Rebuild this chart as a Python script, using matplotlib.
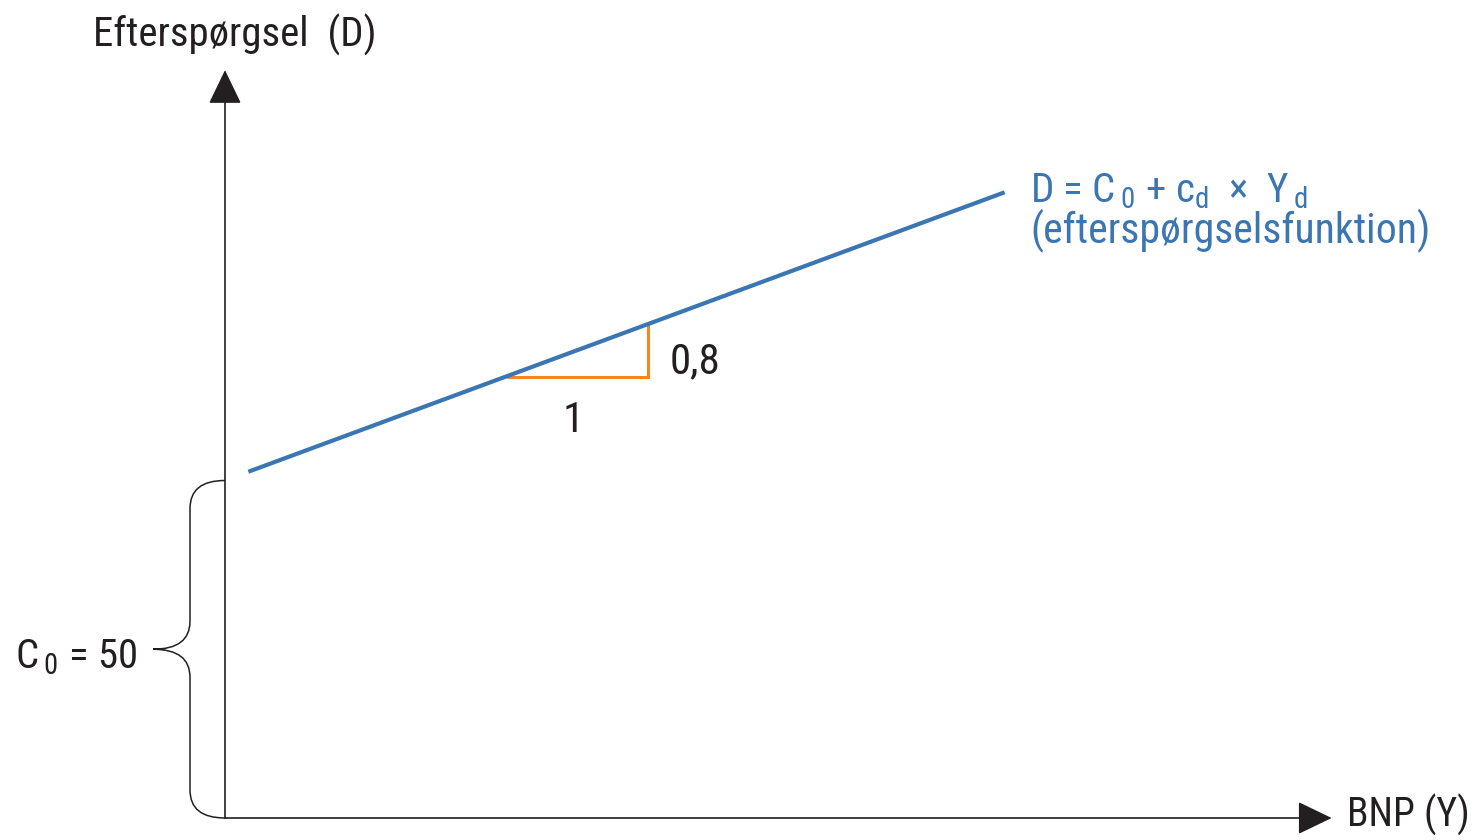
import matplotlib
matplotlib.use('Agg')
import matplotlib.pyplot as plt
from matplotlib import font_manager
from matplotlib.path import Path
from matplotlib.patches import PathPatch

# ---------------- data ----------------
C0 = 50                      # autonomous demand
cd = 0.8                     # marginal propensity
Y_line = [1.6, 53.4]         # BNP values at the ends of the demand line
D_line = [51.3, 92.7]        # demand values at the ends of the line
tri_Y = [19.3, 29.0, 29.0]   # slope triangle (run "1", rise "0,8")
tri_D = [65.3, 65.3, 73.3]
x_axis_max = 75.8
y_axis_max = 110.8

y_label = "Efterspørgsel  (D)"
x_label = "BNP (Y)"
eq_label = r"D = C$\,_{0}$ + c$_{d}$  ×  Y$\,_{d}$"
eq_label2 = "(efterspørgselsfunktion)"
run_label = "1"
rise_label = "0,8"
c0_label = r"C$\,_{0}$ = 50"

# ---------------- layout ----------------
W, H = 1479, 840
ox, oy = 225, 818
sx, sy = 14.6, 6.75
DARK = '#231f20'
BLUE = '#3b76b3'
ORANGE = '#f7861e'

names = {f.name for f in font_manager.fontManager.ttflist}
FONT = 'DejaVu Sans'
for cand in ['Roboto Condensed', 'Liberation Sans Narrow', 'Open Sans Condensed',
             'Noto Sans Condensed', 'DejaVu Sans Condensed']:
    if cand in names:
        FONT = cand
        break

plt.rcParams['font.family'] = [FONT, 'DejaVu Sans']
plt.rcParams['mathtext.fontset'] = 'custom'
plt.rcParams['mathtext.rm'] = FONT
plt.rcParams['mathtext.it'] = FONT
plt.rcParams['mathtext.bf'] = FONT

fig = plt.figure(figsize=(W / 100, H / 100), dpi=100)
ax = fig.add_axes([0, 0, 1, 1])
ax.set_xlim(-ox / sx, (W - ox) / sx)
ax.set_ylim(-(H - oy) / sy, oy / sy)
ax.axis('off')

# axes with arrows
arrow = dict(arrowstyle='-|>,head_length=1.08,head_width=0.52', color=DARK,
             lw=1.2, mutation_scale=20, shrinkA=0, shrinkB=0)
ax.annotate('', xy=(0, y_axis_max), xytext=(0, 0), arrowprops=arrow)
ax.annotate('', xy=(x_axis_max, 0), xytext=(0, 0), arrowprops=arrow)

# demand line
ax.plot(Y_line, D_line, color=BLUE, lw=3.0, solid_capstyle='butt', zorder=3)
# slope triangle
ax.plot(tri_Y, tri_D, color=ORANGE, lw=2.2, solid_joinstyle='miter',
        solid_capstyle='butt', zorder=2)

# brace for C0
def P(px, py):
    return ((px - ox) / sx, (oy - py) / sy)

top_py = oy - C0 * sy
mid_py = (oy + top_py) / 2
spine, tip, r = 190, 153, 28
verts = [P(225, oy), P(spine, oy), P(spine, oy - r),
         P(spine, mid_py + r), P(spine, mid_py), P(tip, mid_py),
         P(spine, mid_py), P(spine, mid_py - r),
         P(spine, top_py + r), P(spine, top_py), P(225, top_py)]
codes = [Path.MOVETO, Path.CURVE3, Path.CURVE3,
         Path.LINETO, Path.CURVE3, Path.CURVE3,
         Path.CURVE3, Path.CURVE3,
         Path.LINETO, Path.CURVE3, Path.CURVE3]
ax.add_patch(PathPatch(Path(verts, codes), fill=False, edgecolor=DARK, lw=1.1))

# texts: place by pixel left/baseline, fit to target width
renderer = fig.canvas.get_renderer()

def place(s, left, base, target_w, color, ha='left', maxsize=31):
    t = fig.text(left / W, 1 - base / H, s, color=color, fontsize=30,
                 ha=ha, va='baseline')
    if target_w:
        w = t.get_window_extent(renderer).width
        t.set_fontsize(min(30 * target_w / w, maxsize))
    else:
        t.set_fontsize(maxsize)
    return t

place(y_label, 93, 47, 284, DARK)
place(eq_label, 1030, 202, 278, BLUE)
place(eq_label2, 1030, 243, 400, BLUE)
place(rise_label, 670, 373, 52, DARK)
place(run_label, 573, 432, None, DARK, ha='center')
place(c0_label, 15, 668, 122, DARK)
place(x_label, 1347, 827, 123, DARK)

fig.savefig('out.png', dpi=100, facecolor='white')
